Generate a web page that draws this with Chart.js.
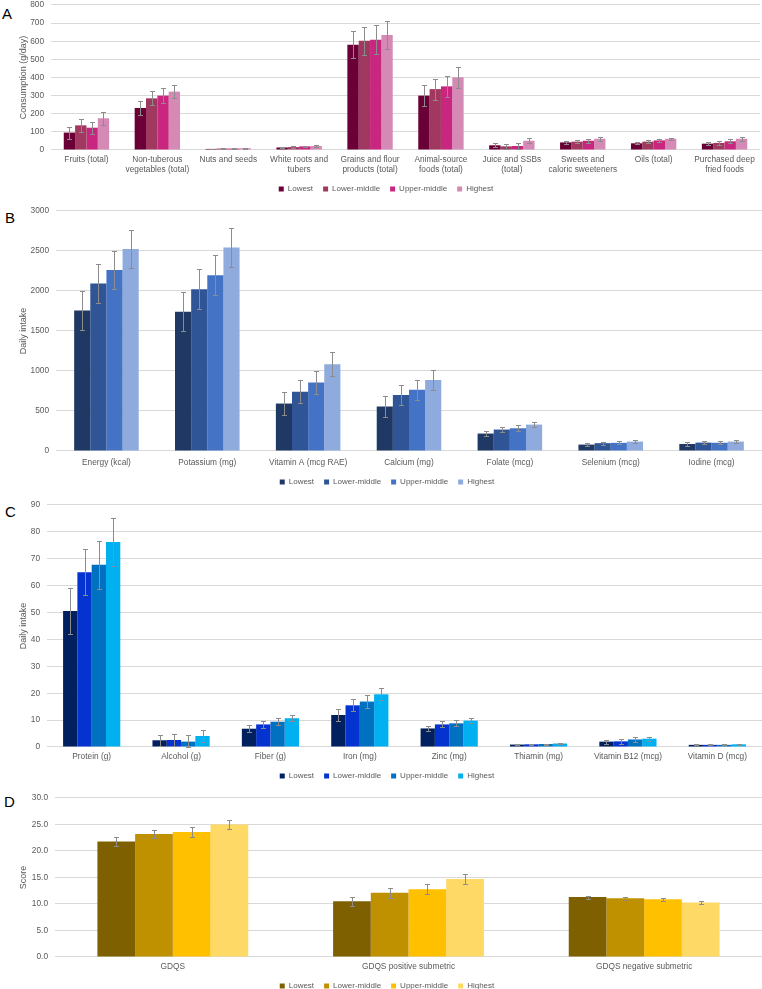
<!DOCTYPE html>
<html>
<head>
<meta charset="utf-8">
<script src="https://cdn.jsdelivr.net/npm/chart.js@4.4.1/dist/chart.umd.min.js"></script>
<style>
  html, body { margin: 0; padding: 0; background: #fff; }
  body { width: 762px; height: 989px; position: relative; overflow: hidden; font-family: "Liberation Sans", Arial, sans-serif; }
  .panel { position: absolute; left: 0; width: 762px; }
  .letter { position: absolute; font-size: 15px; line-height: 17px; color: #000; }
</style>
</head>
<body>
<div class="letter" style="left:2px;top:5px">A</div>
<div class="letter" style="left:5px;top:209px">B</div>
<div class="letter" style="left:5px;top:503px">C</div>
<div class="letter" style="left:4px;top:793px">D</div>

<div class="panel" style="top:-7px;height:210px"><canvas id="chartA"></canvas></div>
<div class="panel" style="top:199px;height:297px"><canvas id="chartB"></canvas></div>
<div class="panel" style="top:493px;height:297px"><canvas id="chartC"></canvas></div>
<div class="panel" style="top:786px;height:214px"><canvas id="chartD"></canvas></div>

<script>
// 공통: 소득 그룹 (4분위)
const groups = ['Lowest', 'Lower-middle', 'Upper-middle', 'Highest'];

// ==========================================
// A. 식품군 섭취량 (g/day)
// ==========================================
const foodLabels = [
  'Fruits (total)', ['Non-tuberous', 'vegetables (total)'], 'Nuts and seeds',
  ['White roots and', 'tubers'], ['Grains and flour', 'products (total)'],
  ['Animal-source', 'foods (total)'], ['Juice and SSBs', '(total)'],
  ['Sweets and', 'caloric sweeteners'], 'Oils (total)', ['Purchased deep', 'fried foods']
];
const foodMeans = [
  [96, 232, 6, 14, 581, 300, 26, 42, 37, 35],
  [136, 285, 8, 16, 603, 336, 20, 46, 46, 39],
  [123, 300, 8, 20, 608, 351, 22, 51, 53, 48],
  [175, 322, 10, 22, 634, 401, 51, 62, 62, 62]
];
const foodErrs = [
  [33, 40, 2, 3, 76, 58, 12, 8, 6, 8],
  [35, 38, 2, 4, 78, 58, 14, 8, 8, 10],
  [33, 40, 2, 3, 80, 57, 14, 10, 7, 12],
  [35, 36, 2, 4, 76, 57, 14, 10, 6, 10]
];
const foodColors = ['#6a0035', '#a0385f', '#c9267f', '#d58ab5'];

// ==========================================
// B. 에너지 및 미량영양소 섭취
// ==========================================
const nutrLabels = ['Energy (kcal)', 'Potassium (mg)', 'Vitamin A (mcg RAE)', 'Calcium (mg)', 'Folate (mcg)', 'Selenium (mcg)', 'Iodine (mcg)'];
const nutrMeans = [
  [1755, 1739, 593, 556, 218, 80, 88],
  [2093, 2023, 742, 700, 268, 98, 105],
  [2262, 2196, 857, 766, 284, 102, 103],
  [2526, 2542, 1084, 886, 330, 118, 118]
];
const nutrErrs = [
  [244, 243, 145, 128, 33, 20, 20],
  [248, 248, 140, 124, 35, 20, 20],
  [243, 248, 148, 124, 35, 20, 20],
  [239, 248, 148, 124, 33, 20, 20]
];
const nutrColors = ['#1f3864', '#2f5597', '#4472c4', '#8faadc'];

// ==========================================
// C. 단백질 등 섭취
// ==========================================
const macroLabels = ['Protein (g)', 'Alcohol (g)', 'Fiber (g)', 'Iron (mg)', 'Zinc (mg)', 'Thiamin (mg)', 'Vitamin B12 (mcg)', 'Vitamin D (mcg)'];
const macroMeans = [
  [50.6, 2.5, 6.8, 11.9, 6.9, 0.9, 2.0, 0.8],
  [65.0, 2.6, 8.4, 15.5, 8.4, 1.0, 2.1, 0.8],
  [67.8, 2.0, 9.4, 16.9, 8.8, 1.1, 2.8, 0.8],
  [76.2, 4.1, 10.7, 19.6, 9.8, 1.3, 3.1, 1.0]
];
const macroErrs = [
  [8.7, 2.1, 1.2, 2.2, 0.9, 0.2, 0.7, 0.2],
  [8.5, 2.1, 1.2, 2.2, 1.1, 0.2, 0.8, 0.2],
  [8.9, 2.3, 1.2, 2.4, 1.1, 0.2, 0.8, 0.2],
  [8.8, 2.2, 1.2, 2.2, 1.0, 0.2, 0.8, 0.2]
];
const macroColors = ['#002060', '#0433d0', '#0070c0', '#00b0f0'];

// ==========================================
// D. GDQS 점수
// ==========================================
const scoreLabels = ['GDQS', 'GDQS positive submetric', 'GDQS negative submetric'];
const scoreMeans = [
  [21.8, 10.5, 11.3],
  [23.2, 12.1, 11.1],
  [23.6, 12.8, 10.9],
  [25.0, 14.7, 10.3]
];
const scoreErrs = [
  [0.9, 0.9, 0.3],
  [0.8, 1.0, 0.3],
  [0.9, 0.9, 0.3],
  [0.9, 1.0, 0.3]
];
const scoreColors = ['#7f6000', '#bf9000', '#ffc000', '#ffd966'];

const FONT = '"Liberation Sans", Arial, sans-serif';
const TXT = '#595959';

// 에러바 플러그인 (평균 ± 오차)
const errorBars = {
  id: 'errorBars',
  afterDatasetsDraw(chart) {
    const ctx = chart.ctx;
    const y = chart.scales.y;
    ctx.save();
    ctx.strokeStyle = '#8c8c8c';
    ctx.lineWidth = 1;
    chart.data.datasets.forEach((ds, i) => {
      const meta = chart.getDatasetMeta(i);
      meta.data.forEach((bar, j) => {
        const v = ds.data[j], e = ds.errors[j];
        const x = Math.round(bar.x) + 0.5;
        const top = Math.round(y.getPixelForValue(v + e)) + 0.5;
        const bot = Math.round(y.getPixelForValue(Math.max(0, v - e))) + 0.5;
        ctx.beginPath();
        ctx.moveTo(x, top); ctx.lineTo(x, bot);
        ctx.moveTo(x - 2.5, top); ctx.lineTo(x + 2.5, top);
        ctx.moveTo(x - 2.5, bot); ctx.lineTo(x + 2.5, bot);
        ctx.stroke();
      });
    });
    ctx.restore();
  }
};

function drawPanel(id, labels, means, errs, colors, cfg) {
  const datasets = groups.map((g, i) => ({
    label: g,
    data: means[i],
    errors: errs[i],
    backgroundColor: colors[i],
    borderWidth: 0,
    barPercentage: 1.0,
    categoryPercentage: 0.64
  }));

  new Chart(document.getElementById(id), {
    type: 'bar',
    data: { labels: labels, datasets: datasets },
    plugins: [errorBars],
    options: {
      responsive: true,
      maintainAspectRatio: false,
      animation: false,
      layout: { padding: { left: 12, right: cfg.padRight || 0, top: 11, bottom: 0 } },
      plugins: {
        legend: {
          position: 'bottom',
          labels: {
            boxWidth: 5, boxHeight: 5, padding: 10,
            color: TXT,
            font: { family: FONT, size: 8 }
          }
        },
        tooltip: { enabled: false }
      },
      scales: {
        x: {
          grid: { display: false, drawTicks: false },
          border: { display: false },
          ticks: {
            color: TXT, font: { family: FONT, size: 8.3 },
            padding: cfg.xPad, maxRotation: 0, autoSkip: false
          },
          afterFit: (s) => { s.height = cfg.xHeight; }
        },
        y: {
          min: 0, max: cfg.max,
          grid: { color: '#d9d9d9', drawTicks: false },
          border: { display: false },
          ticks: {
            stepSize: cfg.step, padding: 7,
            color: TXT, font: { family: FONT, size: 8.3 },
            callback: (v) => cfg.decimals ? v.toFixed(cfg.decimals) : v
          },
          title: {
            display: true, text: cfg.title, color: TXT,
            font: { family: FONT, size: 9 },
            padding: { top: 6, bottom: 0 }
          },
          afterFit: (s) => { s.width = cfg.yWidth; }
        }
      }
    }
  });
}

drawPanel('chartA', foodLabels, foodMeans, foodErrs, foodColors,
  { max: 800, step: 100, title: 'Consumption (g/day)', padRight: 2, xPad: 5, xHeight: 25, yWidth: 39 });
drawPanel('chartB', nutrLabels, nutrMeans, nutrErrs, nutrColors,
  { max: 3000, step: 500, title: 'Daily intake', xPad: 7, xHeight: 17, yWidth: 44 });
drawPanel('chartC', macroLabels, macroMeans, macroErrs, macroColors,
  { max: 90, step: 10, title: 'Daily intake', xPad: 5, xHeight: 15, yWidth: 35 });
drawPanel('chartD', scoreLabels, scoreMeans, scoreErrs, scoreColors,
  { max: 30, step: 5, decimals: 1, title: 'Score', xPad: 5, xHeight: 15, yWidth: 43 });
</script>
</body>
</html>
